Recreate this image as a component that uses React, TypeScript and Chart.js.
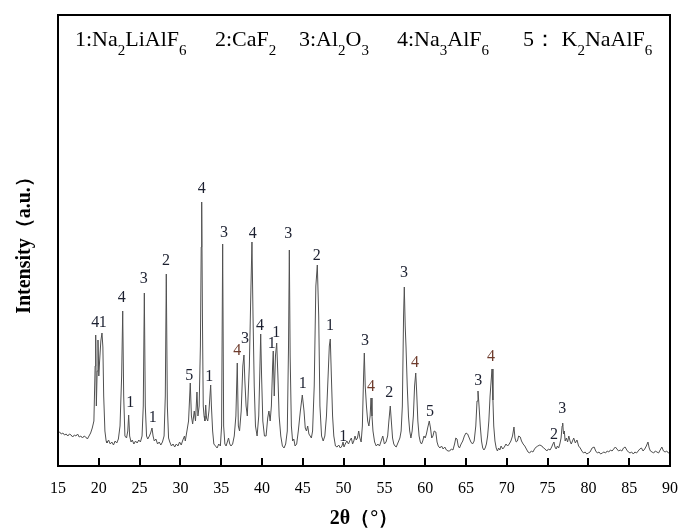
import { useEffect, useRef } from "react";
import { Chart, registerables } from "chart.js";

Chart.register(...registerables);

// 2θ (degrees) and intensity (a.u.) of the XRD pattern
const twoTheta = [
  15.0, 15.2, 15.4, 15.6, 15.8, 16.0, 16.2, 16.4, 16.6, 16.8, 17.0, 17.2, 17.4, 17.6, 17.8, 18.0, 18.2, 18.4, 18.6, 18.8,
  19.0, 19.2, 19.4, 19.55, 19.62, 19.7, 19.8, 19.9, 20.0, 20.1, 20.25, 20.39, 20.5, 20.6, 20.75, 20.9, 21.0, 21.2, 21.4, 21.6,
  21.8, 22.0, 22.2, 22.4, 22.6, 22.8, 22.93, 23.05, 23.2, 23.4, 23.55, 23.66, 23.78, 23.95, 24.1, 24.3, 24.5, 24.7, 24.9, 25.1,
  25.3, 25.45, 25.58, 25.7, 25.85, 26.0, 26.2, 26.35, 26.52, 26.65, 26.8, 27.0, 27.2, 27.4, 27.6, 27.8, 28.0, 28.15, 28.27, 28.4,
  28.55, 28.7, 28.9, 29.1, 29.3, 29.5, 29.7, 29.9, 30.1, 30.3, 30.5, 30.6, 30.8, 31.0, 31.21, 31.35, 31.5, 31.7, 31.85, 32.03,
  32.15, 32.3, 32.45, 32.55, 32.61, 32.7, 32.8, 32.9, 33.0, 33.1, 33.2, 33.35, 33.5, 33.62, 33.71, 33.8, 33.95, 34.1, 34.3, 34.5,
  34.7, 34.9, 35.05, 35.18, 35.3, 35.45, 35.6, 35.75, 35.9, 36.05, 36.2, 36.4, 36.6, 36.8, 36.97, 37.1, 37.25, 37.45, 37.65, 37.79,
  37.9, 38.05, 38.2, 38.45, 38.65, 38.77, 38.9, 39.05, 39.2, 39.4, 39.6, 39.75, 39.84, 39.95, 40.1, 40.3, 40.5, 40.7, 40.85, 41.0,
  41.15, 41.3, 41.38, 41.5, 41.65, 41.8, 41.95, 42.1, 42.3, 42.5, 42.7, 42.9, 43.1, 43.25, 43.35, 43.45, 43.6, 43.75, 43.9, 44.05,
  44.25, 44.45, 44.7, 44.94, 45.15, 45.3, 45.45, 45.6, 45.75, 45.9, 46.05, 46.2, 46.4, 46.6, 46.78, 46.95, 47.1, 47.3, 47.5, 47.7,
  47.9, 48.1, 48.25, 48.37, 48.5, 48.65, 48.8, 49.0, 49.2, 49.4, 49.6, 49.8, 49.93, 50.05, 50.2, 50.4, 50.6, 50.8, 50.95, 51.1,
  51.25, 51.4, 51.55, 51.7, 51.85, 52.0, 52.15, 52.3, 52.45, 52.54, 52.65, 52.8, 52.95, 53.1, 53.25, 53.36, 53.48, 53.6, 53.8, 54.0,
  54.2, 54.4, 54.6, 54.8, 55.0, 55.2, 55.4, 55.55, 55.72, 55.85, 56.0, 56.15, 56.3, 56.45, 56.6, 56.75, 56.9, 57.05, 57.2, 57.35,
  57.44, 57.55, 57.65, 57.8, 57.95, 58.1, 58.25, 58.4, 58.55, 58.7, 58.84, 58.95, 59.1, 59.25, 59.4, 59.55, 59.7, 59.85, 60.0, 60.15,
  60.3, 60.5, 60.65, 60.8, 60.95, 61.1, 61.3, 61.45, 61.6, 61.8, 62.0, 62.2, 62.4, 62.6, 62.8, 63.0, 63.2, 63.4, 63.6, 63.75,
  63.9, 64.05, 64.2, 64.4, 64.6, 64.8, 65.0, 65.2, 65.4, 65.6, 65.8, 66.0, 66.2, 66.35, 66.47, 66.6, 66.75, 66.9, 67.05, 67.2,
  67.35, 67.5, 67.65, 67.8, 67.95, 68.08, 68.19, 68.3, 68.4, 68.55, 68.7, 68.85, 69.0, 69.15, 69.3, 69.5, 69.7, 69.9, 70.1, 70.3,
  70.5, 70.7, 70.88, 71.0, 71.15, 71.3, 71.45, 71.65, 71.8, 72.0, 72.2, 72.4, 72.6, 72.8, 73.0, 73.2, 73.4, 73.6, 73.8, 74.05,
  74.3, 74.5, 74.7, 74.9, 75.1, 75.3, 75.5, 75.65, 75.78, 75.9, 76.05, 76.2, 76.35, 76.5, 76.65, 76.78, 76.85, 76.95, 77.05, 77.15,
  77.3, 77.45, 77.6, 77.75, 77.9, 78.05, 78.2, 78.4, 78.6, 78.8, 79.0, 79.2, 79.4, 79.6, 79.8, 80.0, 80.2, 80.45, 80.7, 80.9,
  81.1, 81.3, 81.5, 81.7, 81.9, 82.1, 82.3, 82.5, 82.7, 82.9, 83.1, 83.3, 83.5, 83.7, 83.9, 84.1, 84.3, 84.5, 84.7, 84.9,
  85.1, 85.3, 85.5, 85.7, 85.9, 86.1, 86.3, 86.5, 86.7, 86.9, 87.1, 87.3, 87.45, 87.6, 87.8, 88.0, 88.2, 88.4, 88.6, 88.8,
  89.0, 89.2, 89.4, 89.6, 89.8, 90.0,
];

const intensity = [
  33, 34, 32, 33, 31, 32, 30, 32, 31, 29, 31, 30, 32, 29, 30, 28, 30, 29, 27, 30,
  33, 38, 45, 100, 131, 60, 95, 126, 90, 105, 125, 133, 119, 70, 35, 25, 23, 26, 22, 24,
  21, 25, 23, 27, 40, 90, 155, 70, 30, 28, 35, 51, 30, 24, 26, 22, 25, 23, 26, 24,
  30, 60, 173, 60, 30, 27, 30, 33, 38, 30, 25, 27, 22, 24, 21, 24, 30, 70, 192, 60,
  28, 24, 20, 22, 19, 22, 20, 24, 21, 26, 30, 25, 35, 45, 83, 50, 42, 55, 45, 74,
  50, 60, 120, 219, 264, 150, 60, 50, 45, 61, 48, 45, 55, 70, 81, 60, 35, 22, 20, 18,
  22, 20, 40, 222, 40, 22, 20, 24, 28, 22, 20, 22, 30, 50, 103, 40, 35, 55, 100, 111,
  85, 60, 50, 100, 180, 224, 150, 80, 40, 30, 50, 100, 132, 90, 45, 30, 30, 48, 55, 45,
  60, 100, 115, 70, 110, 123, 90, 50, 30, 20, 18, 22, 35, 120, 216, 110, 40, 25, 27, 20,
  22, 35, 55, 71, 55, 38, 35, 40, 32, 30, 28, 35, 80, 180, 201, 150, 60, 30, 25, 30,
  50, 90, 120, 127, 90, 50, 30, 20, 19, 21, 18, 20, 24, 19, 22, 25, 22, 26, 28, 22,
  25, 30, 26, 28, 35, 28, 24, 40, 90, 113, 80, 60, 45, 40, 50, 68, 50, 35, 24, 20,
  22, 20, 25, 30, 22, 24, 30, 45, 60, 45, 28, 22, 20, 19, 22, 25, 28, 35, 60, 150,
  179, 140, 119, 80, 50, 35, 28, 35, 50, 80, 93, 75, 45, 30, 24, 22, 25, 30, 28, 32,
  38, 45, 38, 28, 30, 35, 34, 24, 20, 18, 20, 17, 19, 16, 15, 15, 17, 16, 22, 28,
  27, 20, 18, 22, 25, 30, 33, 32, 28, 24, 22, 25, 40, 65, 75, 60, 40, 25, 18, 16,
  18, 22, 30, 45, 70, 85, 97, 66, 40, 25, 18, 15, 18, 16, 20, 17, 19, 22, 20, 22,
  25, 30, 39, 28, 24, 25, 30, 29, 25, 22, 20, 17, 14, 13, 15, 14, 17, 19, 20, 21,
  20, 18, 17, 15, 17, 16, 19, 22, 24, 19, 17, 20, 18, 22, 28, 40, 43, 32, 35, 25,
  28, 24, 30, 25, 22, 25, 28, 23, 26, 20, 18, 15, 13, 14, 12, 13, 14, 18, 19, 15,
  13, 14, 12, 13, 14, 13, 15, 14, 16, 15, 17, 19, 17, 15, 16, 15, 18, 19, 16, 14,
  13, 14, 12, 14, 13, 15, 17, 18, 15, 17, 20, 24, 18, 15, 14, 13, 15, 14, 13, 16,
  19, 15, 14, 15, 13, 14,
];

// x-axis ticks
const xTicks = [15, 20, 25, 30, 35, 40, 45, 50, 55, 60, 65, 70, 75, 80, 85, 90];

// phase labels above peaks
const labelTheta = [
  19.55, 20.48, 22.81, 23.86, 25.5, 26.6, 28.24, 31.09, 32.61, 33.54, 35.34, 36.97, 37.92, 38.86, 39.75, 41.18,
  41.75, 43.22, 44.99, 46.7, 48.33, 49.96, 52.62, 53.36, 55.6, 57.4, 58.75, 60.59, 66.51, 68.06, 75.78, 76.8,
];
const labelLevel = [
  143, 143, 168, 63, 187, 48, 205, 90, 277, 89, 233, 115, 127, 232, 140, 122,
  133, 232, 82, 210, 140, 29, 125, 79, 73, 193, 103, 54, 85, 109, 31, 57,
];
const labelText = [
  "4", "1", "4", "1", "3", "1", "2", "5", "4", "1", "3", "4", "3", "4", "4", "1",
  "1", "3", "1", "2", "1", "1", "3", "4", "2", "3", "4", "5", "3", "4", "2", "3",
];
const labelBrown = [
  false, false, false, false, false, false, false, false, false, false, false, true, false, false, false, false,
  false, false, false, false, false, false, false, true, false, false, true, false, false, true, false, false,
];

// legend entries: [text, subscript?]
const legendEntries: [string, boolean][][] = [
  [["1:Na", false], ["2", true], ["LiAlF", false], ["6", true]],
  [["2:CaF", false], ["2", true]],
  [["3:Al", false], ["2", true], ["O", false], ["3", true]],
  [["4:Na", false], ["3", true], ["AlF", false], ["6", true]],
  [["5： K", false], ["2", true], ["NaAlF", false], ["6", true]],
];
const legendStartX = [75, 215, 299, 397, 523];

const SERIF = "'Liberation Serif', 'Times New Roman', serif";

const overlayPlugin = {
  id: "overlay",
  afterDraw(chart: any) {
    const { ctx, chartArea: a, scales } = chart;
    const xs = scales.x;
    const ys = scales.y;
    ctx.save();
    // frame
    ctx.strokeStyle = "#000";
    ctx.lineWidth = 2;
    ctx.strokeRect(a.left, a.top, a.right - a.left, a.bottom - a.top);
    // inward ticks
    xTicks.forEach((v) => {
      if (v === 15 || v === 90) return;
      const px = Math.round(xs.getPixelForValue(v));
      ctx.beginPath();
      ctx.moveTo(px, a.bottom);
      ctx.lineTo(px, a.bottom - 8);
      ctx.stroke();
    });
    // peak labels
    ctx.font = `16px ${SERIF}`;
    ctx.textAlign = "center";
    ctx.textBaseline = "middle";
    labelText.forEach((t, i) => {
      ctx.fillStyle = labelBrown[i] ? "#6e3b2c" : "#1c2030";
      ctx.fillText(t, xs.getPixelForValue(labelTheta[i]), ys.getPixelForValue(labelLevel[i]));
    });
    // legend
    ctx.textAlign = "left";
    ctx.textBaseline = "alphabetic";
    ctx.fillStyle = "#000";
    const baseY = a.top + 31;
    legendEntries.forEach((segs, k) => {
      let x = legendStartX[k];
      segs.forEach(([txt, sub]) => {
        ctx.font = sub ? `15px ${SERIF}` : `22px ${SERIF}`;
        ctx.fillText(txt, x, sub ? baseY + 9 : baseY);
        x += ctx.measureText(txt).width;
      });
    });
    ctx.restore();
  },
};

export default function App() {
  const ref = useRef<HTMLCanvasElement | null>(null);
  useEffect(() => {
    if (!ref.current) return;
    const chart = new Chart(ref.current, {
      type: "line",
      data: {
        datasets: [
          {
            data: twoTheta.map((x, i) => ({ x, y: intensity[i] })),
            borderColor: "#505050",
            borderWidth: 1,
            pointRadius: 0,
            tension: 0,
            fill: false,
          },
        ],
      },
      options: {
        animation: false,
        responsive: false,
        maintainAspectRatio: false,
        layout: { padding: { top: 15, right: 9, left: 0, bottom: 0 } },
        plugins: { legend: { display: false }, tooltip: { enabled: false } },
        scales: {
          x: {
            type: "linear",
            min: 15,
            max: 90,
            afterBuildTicks: (s: any) => {
              s.ticks = xTicks.map((v) => ({ value: v }));
            },
            ticks: {
              font: { family: SERIF, size: 16 },
              color: "#000",
              padding: 13,
              maxRotation: 0,
              autoSkip: false,
            },
            grid: { display: false, drawTicks: false },
            border: { display: false },
            title: {
              display: true,
              text: "2θ（°）",
              font: { family: SERIF, size: 20, weight: "bold" },
              color: "#000",
              padding: { top: 0, bottom: 0 },
            },
            afterFit: (s: any) => {
              s.height = 65;
              s.paddingLeft = 0;
              s.paddingRight = 0;
            },
          },
          y: {
            min: 0,
            max: 451,
            ticks: { display: false },
            grid: { display: false, drawTicks: false },
            border: { display: false },
            title: {
              display: true,
              text: "Intensity（a.u.）",
              font: { family: SERIF, size: 20, weight: "bold" },
              color: "#000",
              padding: { top: 13, bottom: 0 },
            },
            afterFit: (s: any) => {
              s.width = 58;
              s.paddingTop = 0;
              s.paddingBottom = 0;
            },
          },
        },
      },
      plugins: [overlayPlugin],
    });
    return () => chart.destroy();
  }, []);
  return (
    <div style={{ position: "fixed", left: 0, top: 0, width: 679, height: 531, background: "#fff" }}>
      <canvas ref={ref} width={679} height={531} style={{ display: "block" }} />
    </div>
  );
}
